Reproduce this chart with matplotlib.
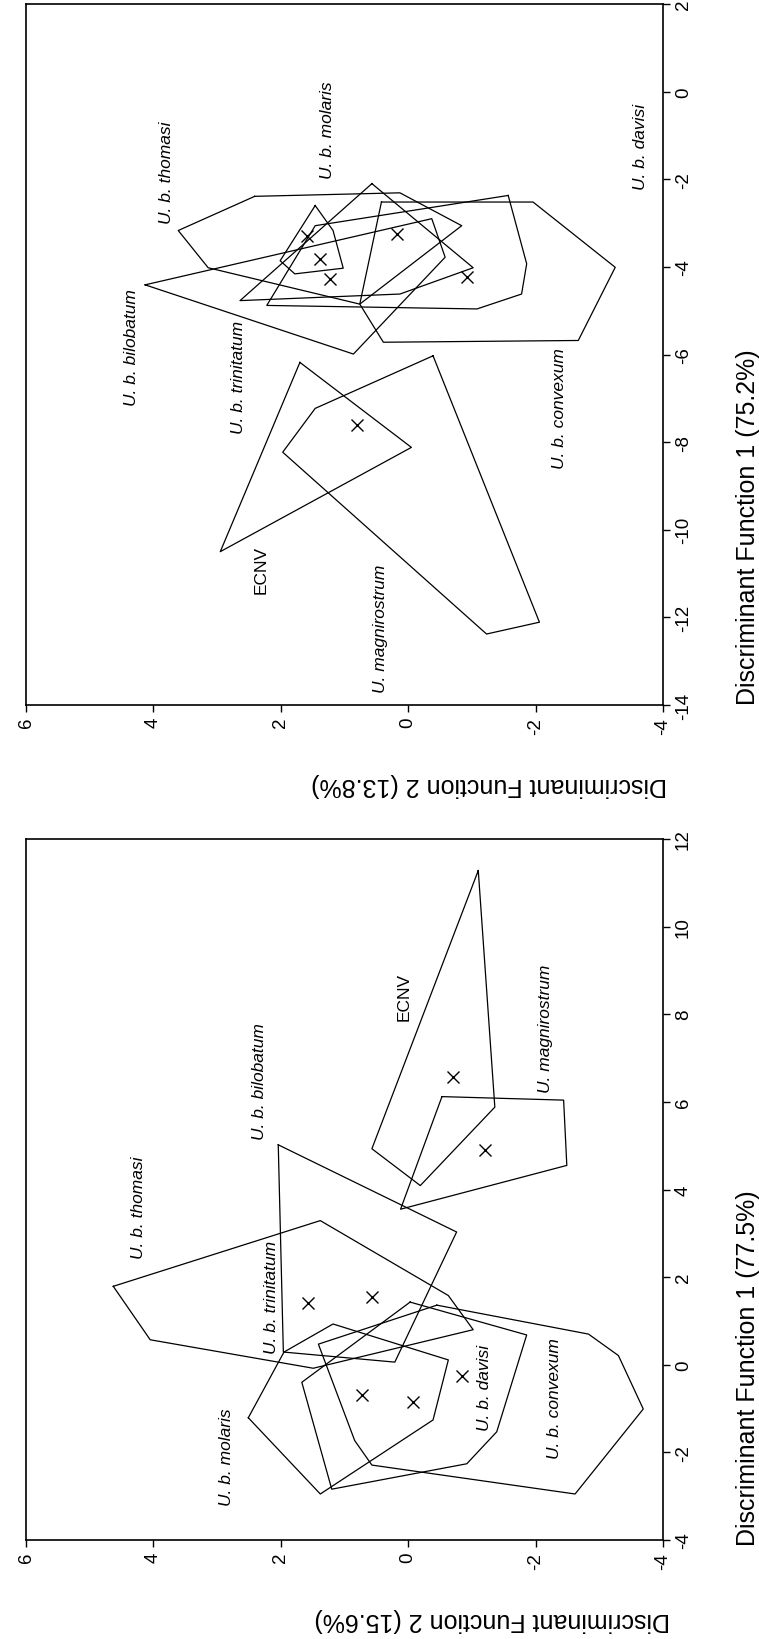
import numpy as np
import matplotlib.pyplot as plt

plt.rcParams['font.family'] = ['Liberation Sans', 'DejaVu Sans']
plt.rcParams['axes.unicode_minus'] = False

# Panel A (Discriminant Function 1 = 77.5 %, DF2 = 15.6 %)
# each polygon: list of (DF1, DF2)
a_thomasi = [(1.79, 4.63), (3.29, 1.38), (1.58, -0.63), (0.80, -1.02), (-0.08, 1.49), (0.57, 4.05)]
a_bilobatum = [(5.02, 2.04), (3.03, -0.76), (0.06, 0.21), (0.29, 1.96)]
a_molaris = [(-1.21, 2.51), (0.29, 1.95), (0.93, 1.18), (0.11, -0.63), (-1.26, -0.39), (-2.95, 1.38)]
a_davisi = [(1.43, -0.03), (0.68, -1.86), (-1.53, -1.39), (-2.26, -0.92), (-2.84, 1.20), (-0.40, 1.67)]
a_convexum = [(1.36, -0.45), (0.70, -2.83), (0.21, -3.30), (-1.01, -3.69), (-2.95, -2.62),
              (-2.29, 0.57), (-1.73, 0.84), (0.47, 1.41)]
a_ecnv = [(11.28, -1.10), (5.88, -1.36), (4.09, -0.19), (4.93, 0.57)]
a_magni = [(6.12, -0.53), (6.04, -2.44), (4.55, -2.49), (3.55, 0.12)]
a_cent_df1 = [1.41, 1.54, -0.69, -0.84, -0.26, 6.56, 4.91]
a_cent_df2 = [1.57, 0.57, 0.73, -0.08, -0.84, -0.71, -1.21]
a_lab_text = ['U. b. thomasi', 'U. b. bilobatum', 'ECNV', 'U. magnirostrum', 'U. b. trinitatum',
              'U. b. molaris', 'U. b. davisi', 'U. b. convexum']
a_lab_df1 = [3.60, 6.48, 8.42, 7.69, 1.55, -2.08, -0.51, -0.74]
a_lab_df2 = [4.24, 2.34, 0.07, -2.16, 2.14, 2.86, -1.19, -2.30]

# Panel B (Discriminant Function 1 = 75.2 %, DF2 = 13.8 %)
b_thomasi = [(-2.39, 2.41), (-2.31, 0.13), (-3.06, -0.84), (-4.85, 0.76), (-4.02, 3.14), (-3.17, 3.61)]
b_bilobatum = [(-4.41, 4.13), (-2.90, -0.37), (-3.78, -0.58), (-5.99, 0.86)]
b_trinitatum = [(-2.10, 0.57), (-4.02, -1.02), (-4.62, 0.13), (-4.77, 2.64)]
b_molaris = [(-2.60, 1.46), (-3.17, 1.18), (-4.03, 1.02), (-4.16, 1.78), (-3.86, 2.01)]
b_davisi = [(-2.37, -1.57), (-3.93, -1.86), (-4.62, -1.78), (-4.96, -1.08), (-4.88, 2.22), (-3.06, 1.46)]
b_convexum = [(-2.52, 0.42), (-2.52, -1.96), (-4.01, -3.25), (-5.68, -2.67), (-5.72, 0.39), (-4.85, 0.76)]
b_ecnv = [(-6.18, 1.70), (-10.50, 2.95), (-8.12, -0.05)]
b_magni = [(-6.03, -0.39), (-12.11, -2.06), (-12.38, -1.23), (-8.23, 1.97), (-7.23, 1.46)]
b_cent_df1 = [-3.29, -3.81, -4.27, -3.25, -4.23, -7.62]
b_cent_df2 = [1.59, 1.38, 1.23, 0.18, -0.92, 0.81]
b_lab_text = ['U. b. thomasi', 'U. b. molaris', 'U. b. bilobatum', 'U. b. trinitatum', 'U. b. davisi',
              'U. b. convexum', 'ECNV', 'U. magnirostrum']
b_lab_df1 = [-1.83, -0.85, -5.83, -6.51, -1.24, -7.20, -10.89, -12.24]
b_lab_df2 = [3.80, 1.26, 4.34, 2.67, -3.64, -2.38, 2.31, 0.43]


def panel(ax, polys, cx, cy, ltext, ldf1, ldf2, ylim, yticks):
    # rotated layout: horizontal = DF2 (reversed), vertical = DF1
    for p in polys:
        p = np.array(p + [p[0]])
        ax.plot(p[:, 1], p[:, 0], color='black', lw=0.9)
    ax.plot(cy, cx, 'x', color='black', ms=9, mew=1.0)
    for t, d1, d2 in zip(ltext, ldf1, ldf2):
        st = 'normal' if t == 'ECNV' else 'italic'
        ax.text(d2, d1, t, rotation=90, ha='center', va='center', fontsize=12.5, style=st)
    ax.set_xlim(6, -4)
    ax.set_ylim(*ylim)
    ax.set_xticks([6, 4, 2, 0, -2, -4])
    ax.set_yticks(yticks)
    ax.yaxis.tick_right()
    ax.tick_params(direction='out', length=5, width=1, labelsize=13.5)
    for lb in ax.get_xticklabels() + ax.get_yticklabels():
        lb.set_rotation(90)
    for lb in ax.get_yticklabels():
        lb.set_va('center')
    for s in ax.spines.values():
        s.set_linewidth(1.2)


fig = plt.figure(figsize=(7.59, 16.40), dpi=100)
ax_b = fig.add_axes([26 / 759, 1 - 706 / 1640, 637 / 759, 701 / 1640])
ax_a = fig.add_axes([26 / 759, 1 - 1541 / 1640, 637 / 759, 701 / 1640])

panel(ax_a, [a_thomasi, a_bilobatum, a_molaris, a_davisi, a_convexum, a_ecnv, a_magni],
      a_cent_df1, a_cent_df2, a_lab_text, a_lab_df1, a_lab_df2, (-4, 12), range(-4, 13, 2))
panel(ax_b, [b_thomasi, b_bilobatum, b_trinitatum, b_molaris, b_davisi, b_convexum, b_ecnv, b_magni],
      b_cent_df1, b_cent_df2, b_lab_text, b_lab_df1, b_lab_df2, (-14, 2), range(-14, 3, 2))

fig.text(748 / 759, 1 - 1368 / 1640, 'Discriminant Function 1 (77.5%)', rotation=90,
         ha='center', va='center', fontsize=18)
fig.text(748 / 759, 1 - 527 / 1640, 'Discriminant Function 1 (75.2%)', rotation=90,
         ha='center', va='center', fontsize=18)
fig.text(492 / 759, 1 - 1620 / 1640, 'Discriminant Function 2 (15.6%)', rotation=180,
         ha='center', va='center', fontsize=18)
fig.text(489 / 759, 1 - 785 / 1640, 'Discriminant Function 2 (13.8%)', rotation=180,
         ha='center', va='center', fontsize=18)

fig.savefig('out.png', dpi=100)
